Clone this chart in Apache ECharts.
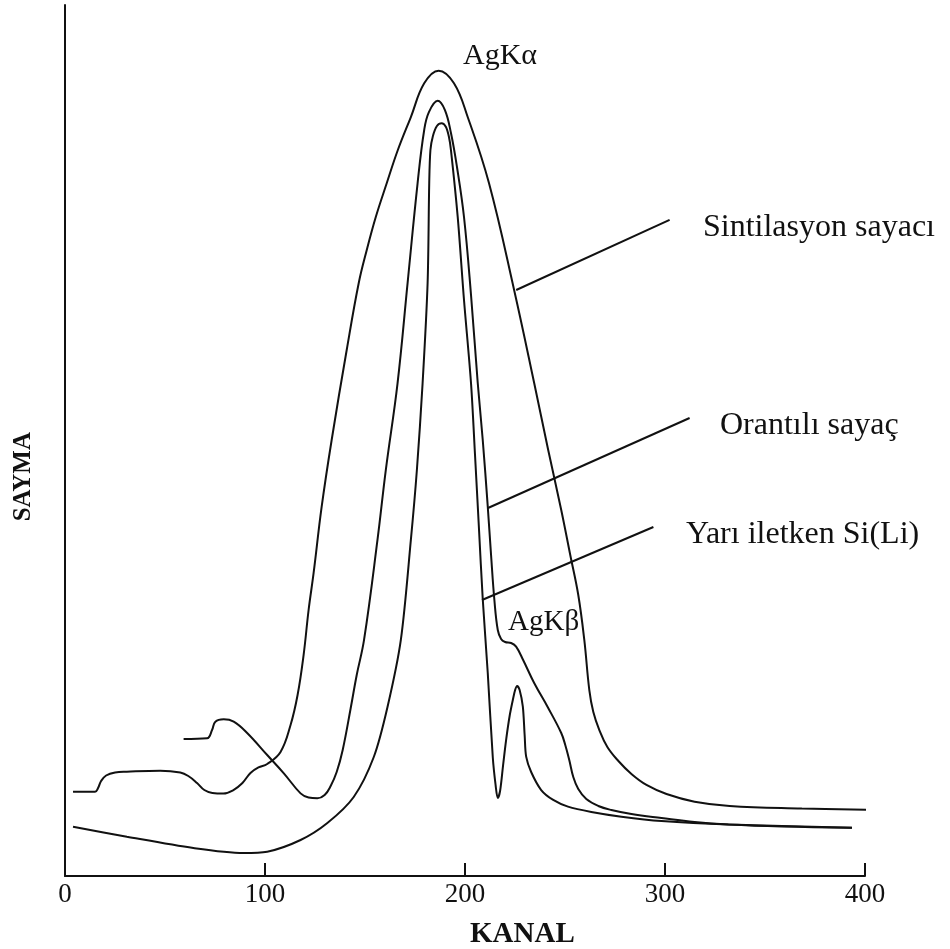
<!DOCTYPE html>
<html>
<head>
<meta charset="utf-8">
<title>AgK spektrumu</title>
<script src="https://cdn.jsdelivr.net/npm/echarts@6/dist/echarts.min.js"></script>
<style>
  html, body { margin: 0; padding: 0; background: #fff; }
  #chart { width: 950px; height: 949px; }
</style>
</head>
<body>
<div id="chart"></div>
<script>
// kanal, sayma (göreli) değerleri
const sintilasyon = [
  [4.01, 9.68], [15.04, 9.68], [16.54, 10.1], [18.05, 10.91], [20.55, 11.54], [25.06, 11.88],
  [30.93, 11.97], [47.62, 12.09], [57.64, 11.88], [61.65, 11.48], [66.02, 10.68], [69.67, 9.87],
  [73.68, 9.53], [79.2, 9.47], [84.21, 9.87], [88.72, 10.68], [92.73, 11.83], [96.74, 12.46],
  [101.1, 12.86], [107.77, 14.24], [112.78, 17.34], [116.29, 20.78], [119.3, 25.37], [121.8, 30.54],
  [124.31, 34.79], [128.32, 42.37], [133.33, 50.06], [140.85, 60.39], [146.87, 68.08], [150.88, 71.87],
  [155.39, 75.66], [160.9, 79.56], [166.42, 83.35], [172.93, 87.14], [179.6, 91.01], [186.82, 92.46],
  [194.49, 91.01], [201.35, 87.14], [211.98, 79.56], [224.56, 67.28], [234.59, 56.6], [241.6, 48.91],
  [248.12, 42.02], [252.63, 36.85], [256.64, 32.26], [259.65, 27.1], [262.16, 21.35], [264.16, 18.83],
  [267.17, 16.76], [271.18, 14.81], [276.69, 13.2], [283.21, 11.71], [290.73, 10.45], [300.75, 9.41],
  [314.79, 8.53], [332.33, 8.04], [368.42, 7.75], [404.36, 7.58]
]
const orantili = [
  [59.3, 15.73], [71.03, 15.81], [73.53, 16.76], [75.19, 17.72], [79.35, 17.99], [84.36, 17.72],
  [91.08, 16.42], [101.1, 13.89], [109.42, 11.79], [117.79, 9.49], [121.8, 9.01], [126.17, 8.92],
  [129.82, 9.3], [132.83, 10.33], [135.84, 11.94], [138.85, 14.47], [142.86, 19.29], [145.86, 23.08],
  [149.52, 27.1], [156.24, 38.58], [160.4, 46.61], [166.27, 56.57], [171.28, 68.05], [176.29, 79.53],
  [179.6, 85.65], [181.95, 87.71], [186.32, 89.01], [189.97, 87.94], [192.98, 85.3], [195.99, 81.4],
  [199.5, 75.66], [203.01, 66.7], [206.37, 56.6], [208.87, 50.06], [211.38, 42.4], [213.03, 36.85],
  [214.69, 31.69], [216.39, 28.24], [218.05, 27.21], [220.05, 26.87], [223.06, 26.75], [225.56, 26.33],
  [229.07, 24.8], [234.59, 22.16], [241.6, 19.29], [248.12, 16.42], [250.13, 15.04], [252.13, 13.32],
  [254.14, 11.37], [256.64, 9.99], [260.65, 8.84], [266.67, 8.04], [273.18, 7.58], [283.21, 7.12],
  [298.25, 6.66], [314.79, 6.2], [331.83, 5.91], [358.4, 5.68], [393.48, 5.55]
]
const yariIletken = [
  [4.01, 5.66], [30.93, 4.51], [64.16, 3.21], [89.22, 2.64], [101.1, 2.79], [117.79, 4.13],
  [131.18, 6.08], [144.36, 9.07], [154.39, 13.66], [161.25, 19.4], [167.92, 27.1], [172.93, 38.58],
  [175.94, 46.61], [178.8, 56.57], [181.3, 68.05], [182.11, 79.53], [182.71, 83.35], [183.96, 84.96],
  [185.96, 86.11], [188.32, 86.42], [190.48, 85.99], [191.98, 84.85], [192.98, 83.35], [196.34, 75.7],
  [199.5, 66.13], [203.01, 56.57], [205.01, 48.34], [207.02, 39.72], [208.87, 31.8], [211.38, 23.31],
  [213.88, 13.66], [215.29, 10.45], [216.39, 8.96], [217.54, 9.76], [219.05, 12.74], [220.55, 15.61],
  [222.31, 18.37], [223.91, 20.21], [225.06, 21.35], [226.07, 21.81], [227.32, 21.35], [228.92, 19.44],
  [229.82, 16.19], [230.58, 13.7], [233.08, 11.94], [238.1, 9.87], [244.11, 8.73], [251.48, 7.96],
  [263.16, 7.35], [278.2, 6.81], [298.25, 6.31], [331.68, 5.91], [393.48, 5.55]
]
const kanalTicks = [0, 100, 200, 300, 400]

// etiket çizgileri (kanal, sayma)
const leaders = [
  [[225.6, 67.28], [302.3, 75.32]],
  [[211.5, 42.25], [312.3, 52.58]],
  [[208.5, 31.69], [294.2, 40.07]]
]

const serif = '"Liberation Serif", "DejaVu Serif", serif'
const chart = echarts.init(document.getElementById('chart'))

function curve(name, data, extra) {
  return Object.assign({
    name: name,
    type: 'line',
    data: data,
    smooth: 0.4,
    symbol: 'none',
    clip: false,
    lineStyle: { color: '#111', width: 2 },
    silent: true
  }, extra || {})
}

chart.setOption({
  animation: false,
  grid: { left: 65, right: 85, top: 5, bottom: 73 },
  xAxis: {
    type: 'value',
    min: 0,
    max: 400,
    interval: 100,
    axisLine: { lineStyle: { color: '#111', width: 2 } },
    axisTick: { inside: true, length: 13, lineStyle: { color: '#111', width: 2 } },
    axisLabel: {
      color: '#111', fontFamily: serif, fontSize: 27, margin: 5,
      formatter: v => kanalTicks.includes(v) ? String(v) : ''
    },
    splitLine: { show: false }
  },
  yAxis: {
    type: 'value',
    min: 0,
    max: 100,
    axisLine: { show: true, lineStyle: { color: '#111', width: 2 } },
    axisTick: { show: false },
    axisLabel: { show: false },
    splitLine: { show: false }
  },
  graphic: [
    { type: 'text', left: 11, top: 432, rotation: Math.PI / 2,
      style: { text: 'SAYMA', fill: '#111', font: 'bold 25px ' + serif } },
    { type: 'text', left: 470, top: 920,
      style: { text: 'KANAL', fill: '#111', font: 'bold 29px ' + serif } },
    { type: 'text', left: 463, top: 41,
      style: { text: 'AgKα', fill: '#111', font: '30px ' + serif } },
    { type: 'text', left: 508, top: 608,
      style: { text: 'AgKβ', fill: '#111', font: '29px ' + serif } },
    { type: 'text', left: 703, top: 212,
      style: { text: 'Sintilasyon sayacı', fill: '#111', font: '32px ' + serif } },
    { type: 'text', left: 720, top: 410,
      style: { text: 'Orantılı sayaç', fill: '#111', font: '32px ' + serif } },
    { type: 'text', left: 686, top: 519,
      style: { text: 'Yarı iletken Si(Li)', fill: '#111', font: '32px ' + serif } }
  ],
  series: [
    curve('Sintilasyon sayacı', sintilasyon, {
      markLine: {
        silent: true,
        symbol: 'none',
        label: { show: false },
        lineStyle: { color: '#111', width: 2, type: 'solid' },
        data: leaders.map(l => [{ coord: l[0] }, { coord: l[1] }])
      }
    }),
    curve('Orantılı sayaç', orantili),
    curve('Yarı iletken Si(Li)', yariIletken, { smooth: 0.3 })
  ]
})
</script>
</body>
</html>
